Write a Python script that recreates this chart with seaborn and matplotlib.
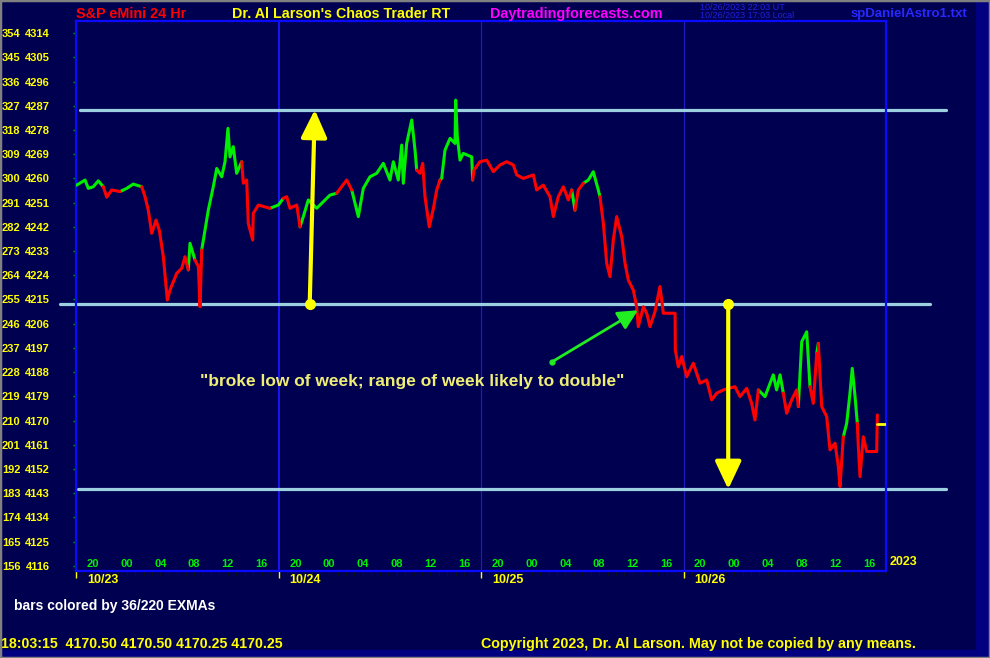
import matplotlib
matplotlib.use("Agg")
import matplotlib.pyplot as plt
import matplotlib.transforms as mtransforms
from matplotlib.patches import Rectangle
import pandas as pd
import seaborn as sns

# hours since session open (10/22 18:00), 1 day = 24 h
hours = [0.08, 1.07, 1.46, 2.05, 2.64, 3.24, 3.64, 4.23, 5.21, 6.01,
         6.79, 7.79, 8.18, 8.57, 8.97, 9.48, 9.87, 10.35, 10.82, 11.14,
         11.93, 12.53, 12.92, 13.31, 13.51, 14.10, 14.50, 14.70, 14.90, 15.29,
         15.68, 16.27, 16.68, 17.27, 17.66, 18.01, 18.25, 18.64, 19.04, 19.64,
         19.83, 20.23, 20.42, 20.94, 21.01, 21.61, 22.99, 23.98, 24.57, 24.97,
         25.36, 26.16, 26.55, 26.94, 27.53, 28.53, 30.10, 30.90, 32.08, 32.68,
         33.46, 34.05, 34.84, 35.64, 36.42, 37.21, 37.61, 38.20, 38.60, 38.79,
         39.19, 39.79, 40.18, 40.38, 40.77, 41.09, 41.36, 41.87, 42.35, 42.75,
         43.14, 43.34, 43.73, 44.33, 44.92, 45.00, 45.19, 45.51, 45.90, 46.90,
         47.01, 47.17, 47.88, 48.68, 49.46, 50.25, 51.05, 51.83, 52.23, 53.01,
         54.20, 54.60, 55.38, 56.18, 56.57, 57.16, 57.76, 58.35, 58.75, 59.14,
         59.53, 60.13, 60.72, 61.31, 61.90, 62.10, 62.50, 62.90, 63.29, 63.68,
         64.08, 64.68, 65.07, 65.46, 66.05, 66.45, 66.64, 67.24, 67.64, 68.03,
         68.62, 69.21, 69.61, 71.00, 71.03, 71.39, 71.79, 72.38, 73.16, 73.96,
         74.75, 75.34, 75.94, 76.72, 78.10, 78.70, 79.49, 80.08, 80.47, 80.87,
         81.66, 82.64, 83.04, 83.44, 83.83, 84.23, 84.82, 85.41, 85.61, 86.01,
         86.60, 86.99, 87.38, 87.79, 87.98, 88.38, 88.97, 89.36, 89.96, 90.35,
         90.55, 90.94, 91.34, 91.73, 92.00, 92.33, 92.60, 92.72, 92.92, 93.31,
         93.71, 94.90, 94.97]
prices = [4257.5, 4259.4, 4256.3, 4256.9, 4259.1, 4256.9, 4253.0, 4255.7, 4255.1, 4256.3,
          4257.9, 4256.9, 4253.2, 4248.2, 4239.6, 4244.5, 4240.8, 4230.9, 4214.8, 4218.5,
          4224.7, 4226.6, 4230.9, 4226.0, 4235.9, 4229.7, 4227.2, 4212.3, 4233.4, 4240.8,
          4248.2, 4256.9, 4263.7, 4260.6, 4266.2, 4278.6, 4268.0, 4271.8, 4261.9, 4266.2,
          4258.2, 4259.4, 4243.3, 4237.1, 4247.0, 4250.1, 4248.9, 4250.1, 4252.6, 4253.2,
          4248.9, 4250.1, 4242.0, 4245.8, 4252.0, 4248.9, 4253.8, 4254.5, 4259.4, 4255.7,
          4245.8, 4256.3, 4260.6, 4261.9, 4265.6, 4259.4, 4266.2, 4259.4, 4272.4, 4258.2,
          4273.0, 4281.7, 4270.5, 4263.1, 4261.9, 4265.6, 4253.2, 4242.0, 4248.7, 4255.7,
          4259.4, 4260.0, 4270.5, 4274.9, 4273.0, 4289.1, 4275.5, 4266.8, 4269.3, 4268.0,
          4259.4, 4263.1, 4266.2, 4266.8, 4262.5, 4265.0, 4266.2, 4265.0, 4261.3, 4260.0,
          4261.3, 4255.7, 4257.5, 4253.2, 4245.8, 4253.2, 4256.9, 4252.0, 4255.7, 4248.2,
          4255.7, 4258.2, 4259.4, 4262.5, 4255.7, 4253.2, 4243.3, 4228.4, 4223.5, 4237.1,
          4245.8, 4238.3, 4228.4, 4222.2, 4218.5, 4212.3, 4204.9, 4212.3, 4209.9, 4204.9,
          4210.5, 4219.8, 4209.9, 4209.9, 4196.2, 4190.0, 4193.8, 4186.3, 4191.3, 4183.9,
          4185.1, 4177.7, 4180.2, 4181.4, 4182.6, 4178.9, 4182.0, 4176.4, 4170.2, 4181.4,
          4178.9, 4187.0, 4181.4, 4187.0, 4180.2, 4172.7, 4177.7, 4181.4, 4175.2, 4199.3,
          4203.0, 4182.6, 4176.4, 4195.0, 4198.7, 4175.2, 4171.5, 4159.1, 4161.6, 4152.9,
          4145.5, 4164.0, 4169.0, 4180.2, 4189.4, 4178.9, 4169.0, 4160.3, 4149.2, 4164.0,
          4158.5, 4158.5, 4172.1]
# G = above EXMAs (green), R = below (red)
bar_color = ("GGGGGGRRRGGGRRRRRRRRRRRRGGRRRGGGGGGGGGGGRRRRRRRGGRRRRGGGGGRRGGG"
             "GGGGGGGGGGGRRRRRRRGGGGGGGGGGRRRRRRRRRRRRRRRRRRGRRGGGGRRRRRRRRRR"
             "RRRRRRRRRRRRRRRRRRRRRRRRGGGGGRRRRGGGRRGRRRRRRRGGGGGRRRRRR")
last_price = 4168.8
last_span = [94.9, 96.8]

level_prices = [4285.5, 4213.5, 4144.5]
level_start = [0.5, -1.9, 0.2]
level_end = [103.1, 101.2, 103.1]

day_starts = [0, 24, 48, 72]
day_labels = ["10/23", "10/24", "10/25", "10/26"]
hour_offsets = [2, 6, 10, 14, 18, 22]
hour_labels = ["20", "00", "04", "08", "12", "16"]

price_ticks = [4116, 4125, 4134, 4143, 4152, 4161, 4170, 4179, 4188, 4197, 4206,
               4215, 4224, 4233, 4242, 4251, 4260, 4269, 4278, 4287, 4296, 4305, 4314]
degree_ticks = [156, 165, 174, 183, 192, 201, 210, 219, 228, 237, 246,
                255, 264, 273, 282, 291, 300, 309, 318, 327, 336, 345, 354]

BG = "#000050"
GREEN = "#00ee00"
RED = "#ff0000"
YELLOW = "#ffff00"
BLUE = "#0a0aff"
LEVEL = "#9cd0e0"

sns.set_style("dark", rc={"axes.facecolor": BG, "figure.facecolor": BG,
                          "axes.grid": False})
plt.rcParams["font.family"] = ["Liberation Sans", "DejaVu Sans"]

fig = plt.figure(figsize=(9.9, 6.58), dpi=100, facecolor=BG)
ax = fig.add_axes([76 / 990, 1 - 571 / 658, 810 / 990, 550 / 658])
ax.set_facecolor(BG)

# price line split into colour runs
rows = []
run = 0
for i in range(len(hours)):
    c = bar_color[i]
    if i > 0 and c != bar_color[i - 1]:
        run += 1
        rows.append((hours[i - 1], prices[i - 1], c, run))
    rows.append((hours[i], prices[i], c, run))
df = pd.DataFrame(rows, columns=["hour", "price", "col", "run"])

# day separators
ax.axvline(day_starts[1], color="#1818ff", lw=1.3, zorder=1)
for d in day_starts[2:]:
    ax.axvline(d, color="#1c1cc0", lw=0.9, zorder=1)

sns.lineplot(data=df, x="hour", y="price", hue="col", units="run",
             estimator=None, sort=False, palette={"G": GREEN, "R": RED},
             linewidth=2.2, legend=False, ax=ax, zorder=3)
ax.plot(last_span, [last_price, last_price], color=YELLOW, lw=2, zorder=3)

for lv, x0, x1 in zip(level_prices, level_start, level_end):
    ax.plot([x0, x1], [lv, lv], color=LEVEL, lw=2.3, clip_on=False, zorder=2)

# arrows
ax.annotate("", xy=(28.3, level_prices[0]), xytext=(27.7, level_prices[1]),
            arrowprops=dict(arrowstyle="-|>,head_length=0.85,head_width=0.4",
                            color=YELLOW, lw=3, mutation_scale=20,
                            shrinkA=0, shrinkB=0), zorder=5)
ax.plot(27.7, level_prices[1], "o", color=YELLOW, ms=7, zorder=5)
ax.annotate("", xy=(77.3, level_prices[2]), xytext=(77.3, level_prices[1]),
            arrowprops=dict(arrowstyle="-|>,head_length=0.85,head_width=0.4",
                            color=YELLOW, lw=3, mutation_scale=20,
                            shrinkA=0, shrinkB=0), zorder=5)
ax.plot(77.3, level_prices[1], "o", color=YELLOW, ms=7, zorder=5)
ax.annotate("", xy=(66.6, 4211.0), xytext=(56.4, 4191.8),
            arrowprops=dict(arrowstyle="-|>,head_length=0.6,head_width=0.3",
                            color="#20ee20", lw=2, mutation_scale=20,
                            shrinkA=0, shrinkB=0), zorder=5)
ax.plot(56.4, 4191.8, "o", color="#20ee20", ms=3.5, zorder=5)

ax.text(39.8, 4184.7, "\"broke low of week; range of week likely to double\"",
        color="#eeee77", fontsize=12.5, fontweight="bold", ha="center",
        va="center", zorder=6)

ax.set_xlim(0, 96)
ax.set_ylim(4114.1, 4318.5)
ax.set_xlabel("")
ax.set_ylabel("")

for s in ax.spines.values():
    s.set_color(BLUE)
    s.set_linewidth(1.6)
    s.set_visible(True)

# price column as tick labels, degree column as a second text column
ax.set_yticks(price_ticks, labels=[str(p) for p in price_ticks])
ax.tick_params(axis="y", which="both", left=True, direction="out", length=2.5,
               width=1, color="#00a000", labelcolor=YELLOW, labelsize=8, pad=16.5)
for lbl in ax.get_yticklabels():
    lbl.set_fontweight("bold")
ytrans = mtransforms.blended_transform_factory(fig.transFigure, ax.transData)
for d, p in zip(degree_ticks, price_ticks):
    ax.text(2 / 990, p, str(d), transform=ytrans, color=YELLOW, fontsize=8,
            fontweight="bold", ha="left", va="center_baseline", clip_on=False)

ax.set_xticks(day_starts, labels=[""] * len(day_starts))
ax.set_xticks(range(0, 97), minor=True)
ax.tick_params(axis="x", which="major", bottom=True, direction="out", length=5,
               width=1, color=YELLOW)
ax.tick_params(axis="x", which="minor", bottom=True, direction="out", length=3,
               width=0.8, color="#101018")

trans = mtransforms.blended_transform_factory(ax.transData, ax.transAxes)
for d, lab in zip(day_starts, day_labels):
    ax.text(d + 1.3, -0.017, lab, transform=trans, color=YELLOW, fontsize=9,
            fontweight="bold", ha="left", va="center", clip_on=False)
    for off, hl in zip(hour_offsets, hour_labels):
        ax.text(d + off, 0.0135, hl, transform=trans, color=GREEN, fontsize=8,
                fontweight="bold", ha="center", va="center")
ax.text(1.005, 0.016, "2023", transform=ax.transAxes, color=YELLOW, fontsize=9,
        fontweight="bold", ha="left", va="center")

# header
fig.text(76 / 990, 0.979, "S&P eMini 24 Hr", color=RED, fontsize=10.4,
         fontweight="bold", ha="left", va="center")
fig.text(232 / 990, 0.979, "Dr. Al Larson's Chaos Trader RT", color=YELLOW,
         fontsize=10.3, fontweight="bold", ha="left", va="center")
fig.text(490 / 990, 0.979, "Daytradingforecasts.com", color="#ff00ff",
         fontsize=10.4, fontweight="bold", ha="left", va="center")
fig.text(700 / 990, 1 - 7 / 658, "10/26/2023 22:03 UT", color="#2020e0",
         fontsize=6.5, ha="left", va="center")
fig.text(700 / 990, 1 - 16 / 658, "10/26/2023 17:03 Local", color="#2020e0",
         fontsize=6.5, ha="left", va="center")
fig.text(851 / 990, 0.979, "spDanielAstro1.txt", color="#2828ff", fontsize=9.5,
         fontweight="bold", ha="left", va="center")

# footer
fig.text(14 / 990, 1 - 606 / 658, "bars colored by 36/220 EXMAs", color="white",
         fontsize=10, fontweight="bold", ha="left", va="center")
fig.text(1 / 990, 1 - 644 / 658, "18:03:15  4170.50 4170.50 4170.25 4170.25",
         color=YELLOW, fontsize=10.2, fontweight="bold", ha="left", va="center")
fig.text(481 / 990, 1 - 644 / 658,
         "Copyright 2023, Dr. Al Larson. May not be copied by any means.",
         color=YELLOW, fontsize=10.3, fontweight="bold", ha="left", va="center")

# window frame
fig.add_artist(Rectangle((976 / 990, 0), 12 / 990, 1, transform=fig.transFigure,
                         color="#000080", zorder=0))
fig.add_artist(Rectangle((0, 0), 1, 8 / 658, transform=fig.transFigure,
                         color="#000080", zorder=0))
fig.add_artist(Rectangle((0, 0), 1, 1, transform=fig.transFigure, fill=False,
                         edgecolor="#808080", lw=2.5, zorder=10))

fig.savefig("out.png", dpi=100, facecolor=BG)
